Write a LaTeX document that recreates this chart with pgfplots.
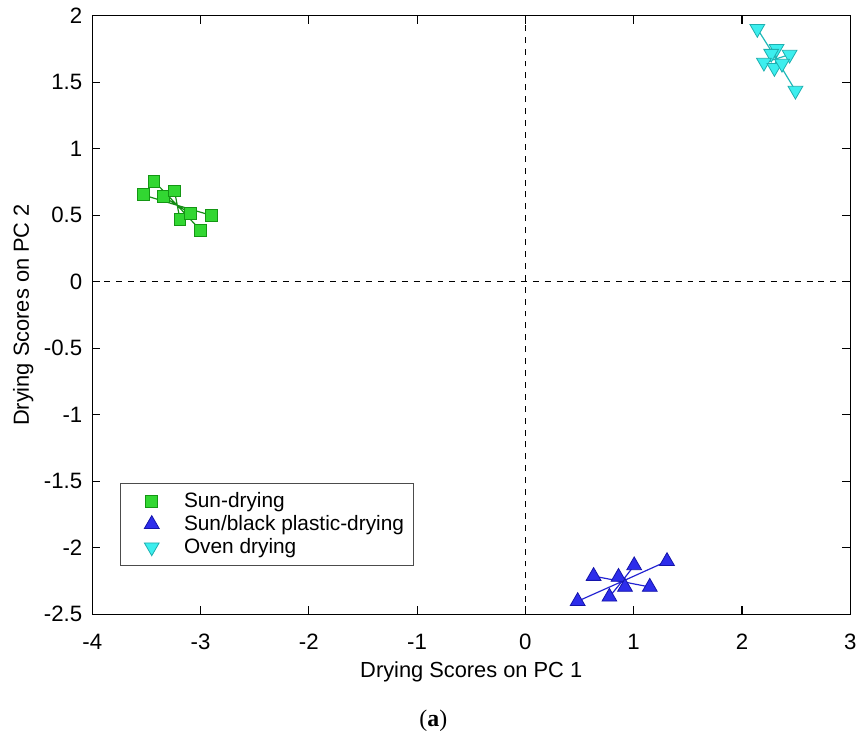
\documentclass[border=0pt]{standalone}
\usepackage{pgfplots}
\pgfplotsset{compat=1.18}
\usepackage{fontspec}
\setmainfont{Liberation Sans}
\newfontfamily\capfont{Liberation Serif}

\definecolor{sunfill}{RGB}{50,215,50}
\definecolor{sunedge}{RGB}{20,150,20}
\definecolor{sunline}{RGB}{20,140,20}
\definecolor{plafill}{RGB}{45,45,235}
\definecolor{plaedge}{RGB}{20,20,170}
\definecolor{plaline}{RGB}{35,35,210}
\definecolor{ovnfill}{RGB}{60,238,238}
\definecolor{ovnedge}{RGB}{30,175,175}
\definecolor{ovnline}{RGB}{30,185,185}

\begin{document}
\begin{tikzpicture}
\begin{axis}[
    name=ax,
    scale only axis,
    width=382pt, height=301.5pt,
    xmin=-4, xmax=3, ymin=-2.5, ymax=2,
    xtick={-4,-3,...,3},
    ytick={-2.5,-2,...,2},
    tick pos=both, tick align=inside,
    major tick length=4pt,
    axis line style={line width=0.6pt},
    every tick/.style={black, line width=0.6pt},
    /pgf/number format/assume math mode=true,
    tick label style={font=\fontsize{11.2}{13}\selectfont},
    xticklabel style={yshift=-6.5pt},
    yticklabel style={xshift=-1.5pt},
    label style={font=\fontsize{11}{13}\selectfont},
    xlabel={Drying Scores on PC 1},
    ylabel={Drying Scores on PC 2},
    xlabel style={at={(axis description cs:0.5,-0.096)}, anchor=center},
    ylabel style={at={(axis description cs:-0.091,0.5)}, anchor=center},
    clip=false,
    legend cell align=left,
    legend image code/.code={
        \path (-12.5pt,0pt) (14pt,0pt);
        \draw[#1] plot coordinates {(0pt,0pt)};
    },
    legend style={at={(axis description cs:0.0366,0.081)}, anchor=south west,
        draw=black!70, line width=0.5pt,
        font=\fontsize{10.5}{12}\selectfont,
        row sep=-1.5pt, inner xsep=3pt, inner ysep=2.5pt},
]
% zero reference lines
\addplot[black, dashed, line width=0.5pt, forget plot] coordinates {(0,-2.5) (0,2)};
\addplot[black, dashed, line width=0.5pt, forget plot] coordinates {(-4,0) (3,0)};

% markers
\addplot[only marks, mark=square*, mark size=3pt,
    mark options={fill=sunfill, draw=sunedge, line width=0.5pt}] table {
x y
-3.43 0.757
-3.53 0.653
-3.34 0.640
-3.24 0.683
-3.19 0.469
-3.09 0.511
-2.90 0.499
-3.00 0.387
};
\addlegendentry{Sun-drying}

\addplot[only marks, mark=triangle*, mark size=4.3pt,
    mark options={fill=plafill, draw=plaedge, line width=0.4pt}] table {
x y
0.630 -2.214
0.860 -2.221
1.005 -2.134
1.308 -2.102
0.920 -2.296
1.149 -2.296
0.776 -2.370
0.483 -2.403
};
\addlegendentry{Sun/black plastic-drying}

\addplot[only marks, mark=triangle*, mark size=4.3pt,
    mark options={rotate=180, fill=ovnfill, draw=ovnedge, line width=0.4pt}] table {
x y
2.142 1.903
2.320 1.753
2.440 1.709
2.270 1.716
2.203 1.649
2.300 1.609
2.370 1.641
2.494 1.438
};
\addlegendentry{Oven drying}

% lines from each group centre to its points
\addplot[sunline, line width=0.6pt, forget plot] coordinates {
(-3.43,0.757) (-3.215,0.575) (-3.53,0.653) (-3.215,0.575) (-3.34,0.640) (-3.215,0.575)
(-3.24,0.683) (-3.215,0.575) (-3.19,0.469) (-3.215,0.575) (-3.09,0.511) (-3.215,0.575)
(-2.90,0.499) (-3.215,0.575) (-3.00,0.387)
};
\addplot[plaline, line width=0.6pt, forget plot] coordinates {
(0.630,-2.214) (0.891,-2.255) (0.860,-2.221) (0.891,-2.255) (1.005,-2.134) (0.891,-2.255)
(1.308,-2.102) (0.891,-2.255) (0.920,-2.296) (0.891,-2.255) (1.149,-2.296) (0.891,-2.255)
(0.776,-2.370) (0.891,-2.255) (0.483,-2.403)
};
\addplot[ovnline, line width=0.6pt, forget plot] coordinates {
(2.142,1.903) (2.317,1.677) (2.320,1.753) (2.317,1.677) (2.440,1.709) (2.317,1.677)
(2.270,1.716) (2.317,1.677) (2.203,1.649) (2.317,1.677) (2.300,1.609) (2.317,1.677)
(2.370,1.641) (2.317,1.677) (2.494,1.438)
};

\node[font=\capfont\fontsize{12}{14}\selectfont] at (axis description cs:0.45,-0.179) {(\textbf{a})};
\end{axis}
\path ([shift={(-46.5pt,-63pt)}]ax.south west) ([shift={(3pt,8pt)}]ax.north east);
\end{tikzpicture}
\end{document}
